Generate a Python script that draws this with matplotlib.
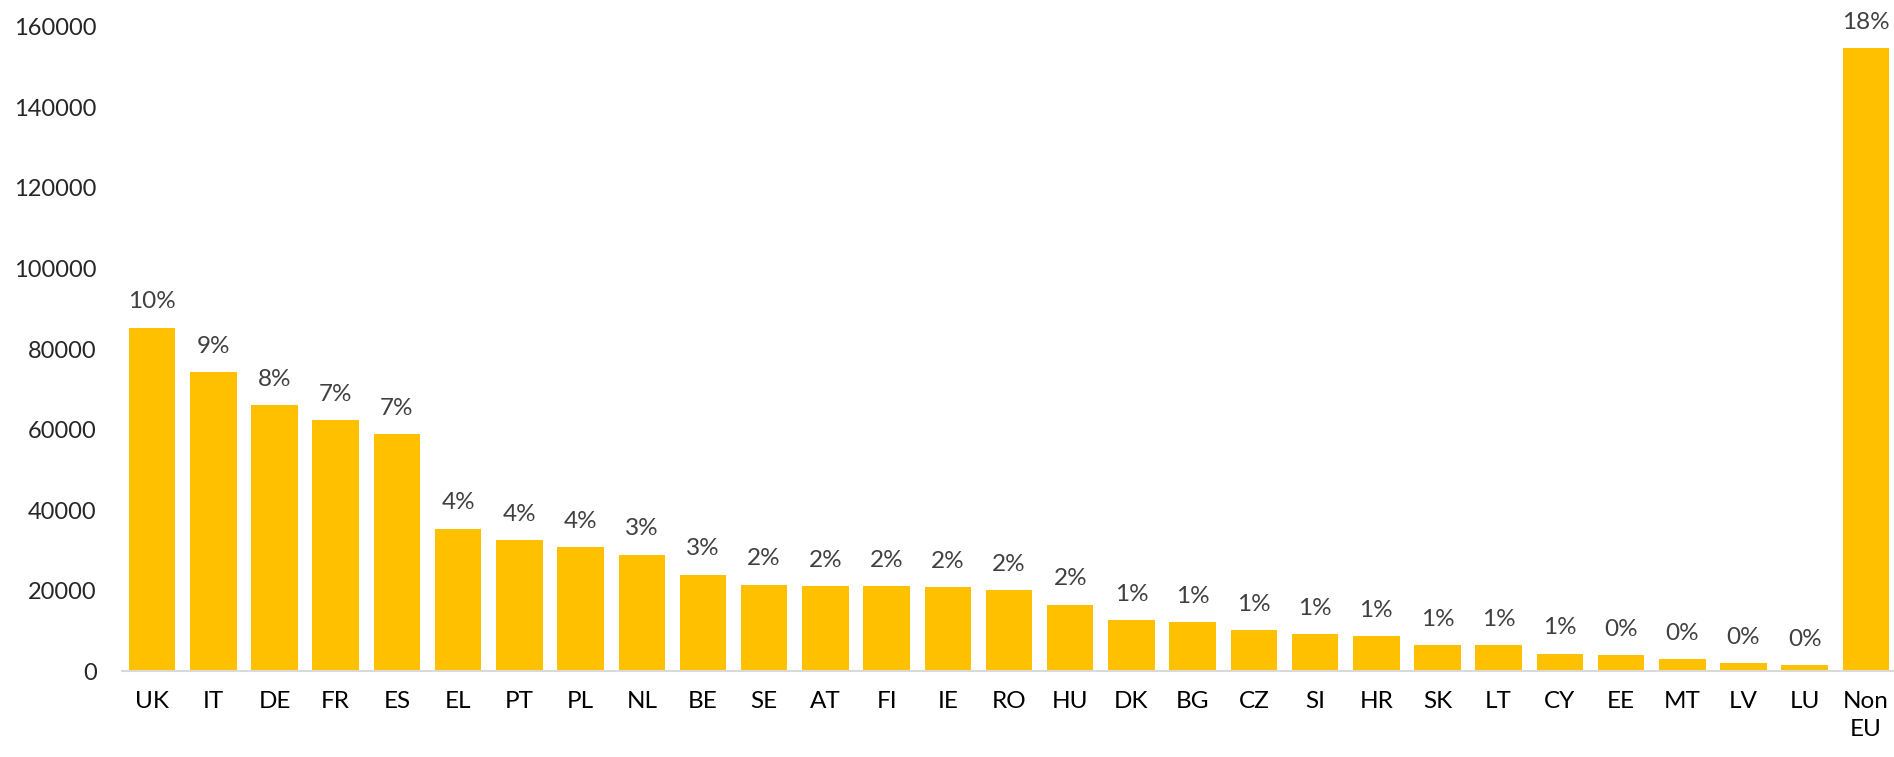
import matplotlib
matplotlib.use("Agg")
import matplotlib.pyplot as plt

categories = ["UK", "IT", "DE", "FR", "ES", "EL", "PT", "PL", "NL", "BE", "SE", "AT", "FI", "IE",
              "RO", "HU", "DK", "BG", "CZ", "SI", "HR", "SK", "LT", "CY", "EE", "MT", "LV", "LU", "Non\nEU"]
values = [85300, 74300, 66000, 62400, 58800, 35400, 32600, 30800, 29000, 24000, 21500, 21200, 21200, 20900,
          20200, 16600, 12700, 12300, 10200, 9300, 8700, 6600, 6600, 4400, 4000, 3100, 2100, 1500, 154600]
shares = ["10%", "9%", "8%", "7%", "7%", "4%", "4%", "4%", "3%", "3%", "2%", "2%", "2%", "2%",
          "2%", "2%", "1%", "1%", "1%", "1%", "1%", "1%", "1%", "1%", "0%", "0%", "0%", "0%", "18%"]
yticks = [0, 20000, 40000, 60000, 80000, 100000, 120000, 140000, 160000]

plt.rcParams['font.family'] = ['Lato', 'DejaVu Sans']

W, H = 1894, 757
fig = plt.figure(figsize=(W / 100, H / 100), dpi=100)
ax = fig.add_axes([121.5 / W, 85.6 / H, 1775 / W, 644.8 / H])

x = list(range(len(categories)))
ax.bar(x, values, width=0.76, color="#FFC000", zorder=2)
for xi, v, s in zip(x, values, shares):
    ax.annotate(s, (xi, v), xytext=(0, 11), textcoords="offset points",
                ha="center", va="bottom", fontsize=17.5, color="#404040", annotation_clip=False)

ax.set_xlim(-0.5, len(categories) - 0.5)
ax.set_ylim(0, 160000)
ax.set_yticks(yticks)
ax.set_yticklabels([str(t) for t in yticks], fontsize=17, color="#262626")
ax.set_xticks(x)
ax.set_xticklabels(categories, fontsize=17.5, color="#000000", linespacing=1.45)
ax.tick_params(axis="y", length=0, pad=18)
ax.tick_params(axis="x", length=0, pad=14)
for sp in ["left", "right", "top"]:
    ax.spines[sp].set_visible(False)
ax.spines["bottom"].set_color("#D9D9D9")
ax.spines["bottom"].set_linewidth(1.5)

fig.savefig("out.png", dpi=100)
